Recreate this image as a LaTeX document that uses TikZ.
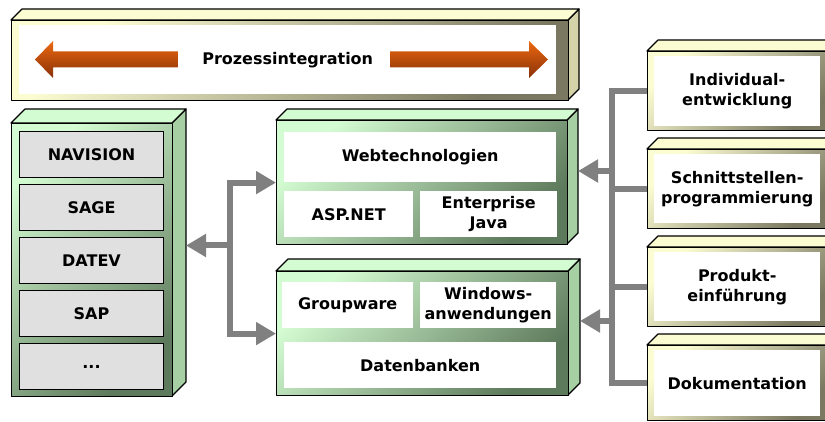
\documentclass[tikz,border=0pt]{standalone}
\usepackage{fontspec}
\setmainfont{DejaVu Sans}
\usetikzlibrary{arrows.meta,positioning}

\definecolor{greenlight}{HTML}{D4FCD2}
\definecolor{greendark}{HTML}{5E7A5C}
\definecolor{greenside}{HTML}{A6CFA4}
\definecolor{yellowlight}{HTML}{FCFCD2}
\definecolor{yellowdark}{HTML}{7A7860}
\definecolor{yellowside}{HTML}{D4D2A8}
\definecolor{panelgray}{HTML}{E0E0E0}
\definecolor{pipegray}{HTML}{808080}
\definecolor{arrowtop}{HTML}{EC6810}
\definecolor{arrowbottom}{HTML}{883008}

\newcommand{\boxfont}{\fontsize{16}{20}\selectfont\bfseries}

\tikzset{
  slabline/.style={draw=black, line width=1.2pt, line join=round},
  slabface/.style={slabline, anchor=north west, inner sep=0pt},
  panel/.style={fill=white, anchor=north west, inner sep=0pt, align=center, font=\boxfont},
  erpitem/.style={panel, fill=panelgray, draw=black, line width=1pt},
  pipe/.style={draw=pipegray, line width=6pt},
  pipetip/.style={pipe, -{Triangle[length=20pt, width=22pt]}},
}

% 3D slab: name, x, y, width, height, depth, colour prefix
\newcommand{\slab}[7]{%
  \filldraw[fill=#7side, slabline] (#2+#4,#3) -- ++(#6,-#6) -- ++(0,#5) -- ++(-#6,#6) -- cycle;
  \filldraw[fill=#7light, slabline] (#2,#3) -- ++(#6,-#6) -- ++(#4,0) -- ++(-#6,#6) -- cycle;
  \node[slabface, top color=#7light, bottom color=#7dark, shading angle=45,
        minimum width=#4pt, minimum height=#5pt] (#1) at (#2,#3) {};
  \coordinate (#1-side) at (#2+#4+#6,#3+#5/2-#6);
}

\begin{document}
\begin{tikzpicture}[x=1pt,y=-1pt]

    % Drawing Parameters
    \pgfmathsetmacro{\pagewidth}{825}%
    \pgfmathsetmacro{\pageheight}{422}%
    \pgfmathsetmacro{\hubleft}{230}%
    \pgfmathsetmacro{\hubright}{612}%

    \useasboundingbox (0,0) rectangle (\pagewidth,\pageheight);
    \clip (0,0) rectangle (\pagewidth,\pageheight);

    %% Slabs
    % Process integration
    \slab{prozess}{11}{20}{557}{80}{11}{yellow}
    \node[panel, minimum width=537pt, minimum height=69pt] (prozesstext) at (19,25) {Prozessintegration};
    \shade[top color=arrowtop, bottom color=arrowbottom] (35,59.5) -- (53,41) -- (53,51.5) -- (178,51.5) -- (178,67.5) -- (53,67.5) -- (53,78) -- cycle;
    \shade[top color=arrowtop, bottom color=arrowbottom] (548,59.5) -- (529,41) -- (529,51.5) -- (390,51.5) -- (390,67.5) -- (529,67.5) -- (529,78) -- cycle;

    % ERP systems
    \slab{erp}{11}{123}{161}{273}{14}{green}
    \node[erpitem, minimum width=144pt, minimum height=46pt] (navision) at (19,131) {NAVISION};
    \node[erpitem, minimum width=144pt, minimum height=46pt] (sage) at (19,184) {SAGE};
    \node[erpitem, minimum width=144pt, minimum height=46pt] (datev) at (19,237) {DATEV};
    \node[erpitem, minimum width=144pt, minimum height=46pt] (sap) at (19,290) {SAP};
    \node[erpitem, minimum width=144pt, minimum height=46pt] (more) at (19,343) {...};

    % Web
    \slab{web}{276}{120}{291}{124}{11}{green}
    \node[panel, minimum width=272pt, minimum height=50pt] (webtech) at (284,132) {Webtechnologien};
    \node[panel, minimum width=129pt, minimum height=46pt] (aspnet) at (284,191) {ASP.NET};
    \node[panel, minimum width=137pt, minimum height=46pt] (java) at (420,191) {Enterprise\\Java};

    % Desktop / databases
    \slab{dbs}{276}{271}{292}{124}{12}{green}
    \node[panel, minimum width=131pt, minimum height=46pt] (groupware) at (282,282) {Groupware};
    \node[panel, minimum width=136pt, minimum height=46pt] (windows) at (420,282) {Windows-\\anwendungen};
    \node[panel, minimum width=272pt, minimum height=46pt] (datenbanken) at (284,342) {Datenbanken};

    % Services
    \slab{indiv}{647}{51}{182}{79}{11}{yellow}
    \node[panel, minimum width=166pt, minimum height=70pt] (indivtext) at (654,56) {Individual-\\entwicklung};
    \slab{schnitt}{647}{149}{182}{79}{11}{yellow}
    \node[panel, minimum width=166pt, minimum height=69pt] (schnitttext) at (654,154) {Schnittstellen-\\programmierung};
    \slab{produkt}{647}{247}{182}{79}{11}{yellow}
    \node[panel, minimum width=166pt, minimum height=69pt] (produkttext) at (654,252) {Produkt-\\einführung};
    \slab{doku}{647}{345}{182}{75}{11}{yellow}
    \node[panel, minimum width=166pt, minimum height=66pt] (dokutext) at (654,350) {Dokumentation};

    %% Connectors
    \coordinate (hubL) at (\hubleft,0);
    \coordinate (hubR) at (\hubright,0);
    % Left hub
    \draw[pipetip] (hubL |- erp-side) -- (erp-side);
    \draw[pipetip] (hubL |- erp-side) |- (web.west);
    \draw[pipetip] (hubL |- erp-side) |- (dbs.west);
    % Right hub
    \draw[pipe] (indiv.west) -| (hubR |- doku.west) -- (doku.west);
    \draw[pipe] (schnitt.west) -- (schnitt.west -| hubR);
    \draw[pipe] (produkt.west) -- (produkt.west -| hubR);
    \draw[pipetip] (hubR |- web-side) -- (web-side);
    \draw[pipetip] (hubR |- dbs-side) -- (dbs-side);
  \end{tikzpicture}
\end{document}
